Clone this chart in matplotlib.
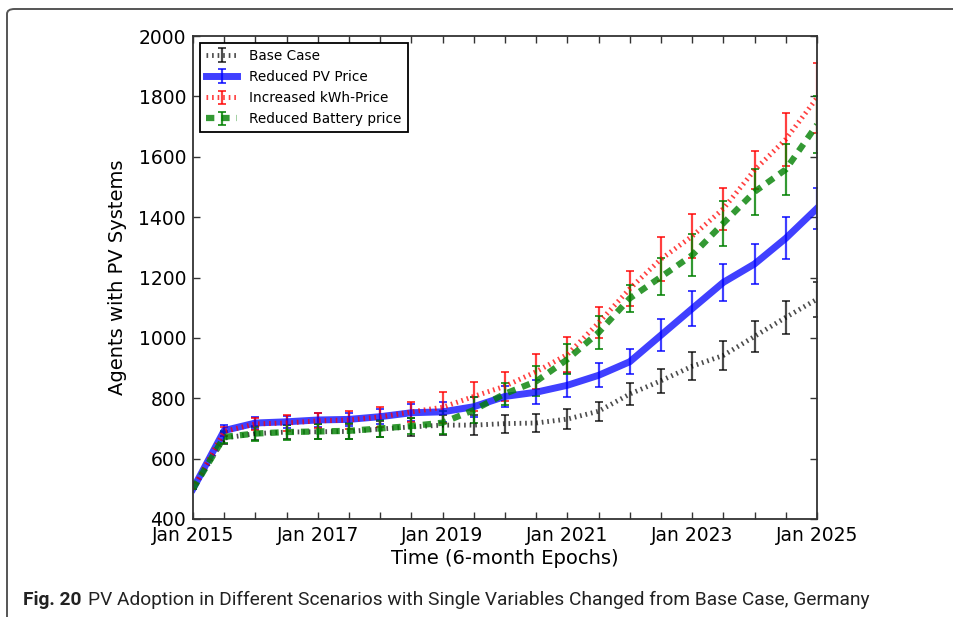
import numpy as np
import matplotlib
matplotlib.use("Agg")
import matplotlib.pyplot as plt
from matplotlib.patches import FancyBboxPatch

# 6-month epochs from Jan 2015 to Jan 2025
epochs = np.arange(21)
tick_labels = ["Jan 2015", "Jan 2017", "Jan 2019", "Jan 2021", "Jan 2023", "Jan 2025"]

base_case = [500, 668, 683, 688, 689, 690, 698, 705, 711, 711, 716, 718,
             731, 757, 814, 858, 906, 942, 1005, 1068, 1128]
base_err = [0, 20, 22, 24, 25, 26, 28, 30, 32, 32, 30, 30,
            32, 32, 36, 40, 46, 48, 52, 55, 58]

reduced_pv = [500, 693, 718, 722, 728, 730, 739, 752, 755, 772, 806, 820,
              843, 876, 921, 1009, 1097, 1184, 1245, 1330, 1429]
reduced_pv_err = [0, 18, 20, 20, 22, 22, 25, 28, 33, 33, 34, 40,
                  40, 40, 42, 54, 59, 61, 65, 69, 69]

increased_kwh = [500, 690, 715, 718, 725, 728, 738, 755, 770, 806, 840, 888,
                 945, 1050, 1163, 1261, 1337, 1428, 1556, 1658, 1795]
increased_kwh_err = [0, 15, 20, 25, 25, 30, 32, 33, 52, 48, 48, 58,
                     58, 52, 58, 72, 72, 70, 62, 87, 117]

reduced_battery = [500, 672, 683, 688, 690, 692, 700, 708, 719, 761, 815, 856,
                   929, 1018, 1131, 1202, 1274, 1380, 1484, 1558, 1706]
reduced_battery_err = [0, 20, 25, 25, 26, 27, 28, 28, 38, 44, 37, 50,
                       50, 55, 44, 61, 69, 75, 76, 85, 95]

plt.rcParams["lines.scale_dashes"] = False
plt.rcParams["lines.dotted_pattern"] = [1.2, 2.8]
plt.rcParams["lines.dashed_pattern"] = [6, 5]
plt.rcParams["xtick.direction"] = "in"
plt.rcParams["ytick.direction"] = "in"
plt.rcParams["xtick.top"] = True
plt.rcParams["ytick.right"] = True

fig = plt.figure(figsize=(9.54, 6.17), dpi=100)
ax = fig.add_axes([193 / 954, 1 - 519 / 617, 624 / 954, 483 / 617])

ax.errorbar(epochs, base_case, yerr=base_err, color="k", ls=":", lw=3.5,
            elinewidth=1.6, capsize=3, capthick=1.4, alpha=0.7, label="Base Case")
ax.errorbar(epochs, reduced_pv, yerr=reduced_pv_err, color="b", ls="-", lw=5,
            elinewidth=1.6, capsize=3, capthick=1.4, alpha=0.75, label="Reduced PV Price")
ax.errorbar(epochs, increased_kwh, yerr=increased_kwh_err, color="r", ls=":", lw=3.6,
            elinewidth=1.6, capsize=3, capthick=1.4, alpha=0.75, label="Increased kWh-Price")
ax.errorbar(epochs, reduced_battery, yerr=reduced_battery_err, color="g", ls="--", lw=4.5,
            elinewidth=1.6, capsize=3, capthick=1.4, alpha=0.8, label="Reduced Battery price")

ax.set_xlim(0, 20)
ax.set_ylim(400, 2000)
ax.set_xticks(epochs)
ax.set_xticklabels([tick_labels[i // 4] if i % 4 == 0 else "" for i in epochs])
ax.set_yticks(np.arange(400, 2001, 200))
ax.tick_params(labelsize=13.5, length=5, width=1, color="#333333", pad=5)
for sp in ax.spines.values():
    sp.set_linewidth(1.3)
    sp.set_color("#333333")

ax.set_xlabel("Time (6-month Epochs)", fontsize=14, labelpad=3)
ax.set_ylabel("Agents with PV Systems", fontsize=14, labelpad=8)

leg = ax.legend(loc="upper left", fontsize=9.8, fancybox=False, framealpha=1,
                borderaxespad=0.5, handlelength=2.3, handletextpad=0.9,
                labelspacing=0.52, borderpad=0.45)
leg.get_frame().set_edgecolor("black")
leg.get_frame().set_linewidth(1.3)

# page frame and caption
frame = FancyBboxPatch((7 / 954, -0.1), 1.2, 1.1 - 9 / 617,
                       boxstyle="round,pad=0,rounding_size=0.008",
                       transform=fig.transFigure, fill=False,
                       edgecolor="#555555", lw=1.4, clip_on=False)
fig.patches.append(frame)

t1 = fig.text(23 / 954, 1 - 600 / 617, "Fig. 20", fontsize=13.8, fontweight="bold",
              family="Roboto", va="center", color="#222222")
fig.canvas.draw()
bb = t1.get_window_extent(fig.canvas.get_renderer())
fig.text((bb.x1 + 7) / 954, 1 - 600 / 617,
         "PV Adoption in Different Scenarios with Single Variables Changed from Base Case, Germany",
         fontsize=13.8, family="Roboto", va="center", color="#222222")

fig.savefig("out.png", dpi=100, facecolor="white")
